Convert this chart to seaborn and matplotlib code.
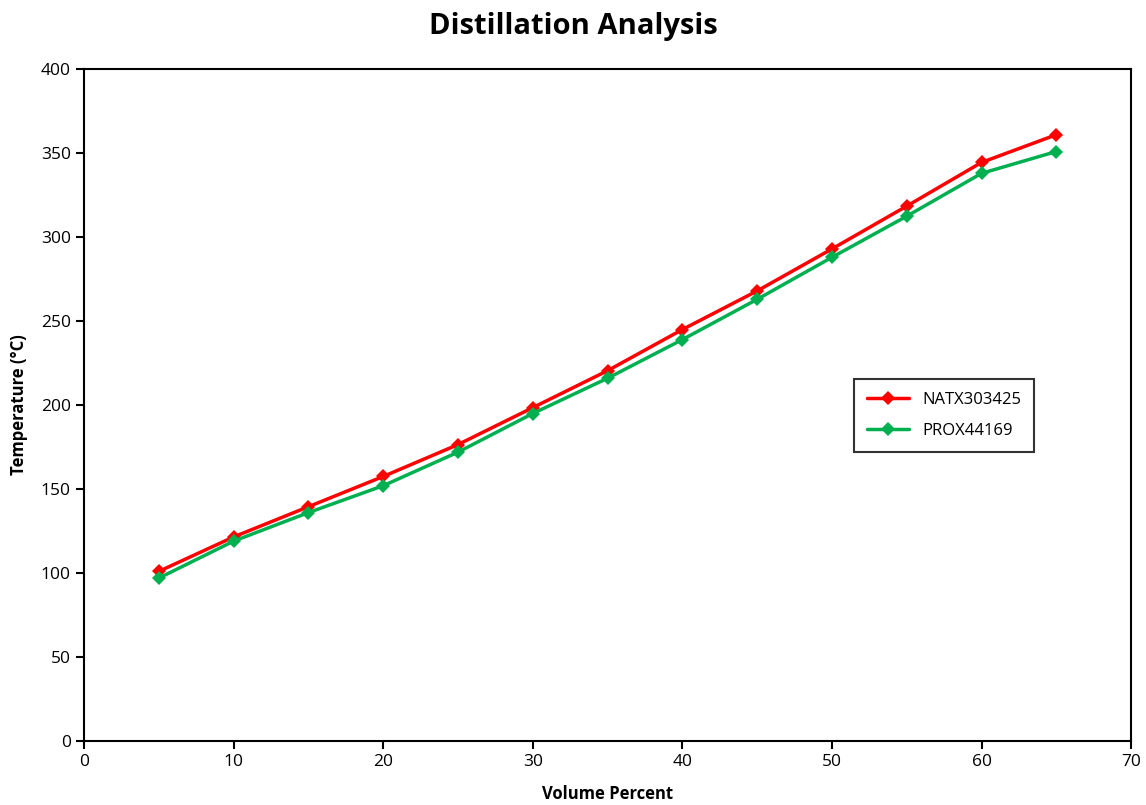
import pandas as pd
import seaborn as sns
import matplotlib

matplotlib.use("Agg")
import matplotlib.pyplot as plt

# values
volume_pct = [5, 10, 15, 20, 25, 30, 35, 40, 45, 50, 55, 60, 65]
natx_temp = [101, 121.5, 139.5, 157.5, 176.5, 198.5, 220.5, 245, 268, 293, 318.5, 344.5, 361]
prox_temp = [97, 119, 136, 152, 172, 195, 216, 239, 263, 288, 312.5, 338, 351]
series_names = ["NATX303425", "PROX44169"]

df = pd.concat(
    [
        pd.DataFrame({"volume": volume_pct, "temp": natx_temp, "sample": series_names[0]}),
        pd.DataFrame({"volume": volume_pct, "temp": prox_temp, "sample": series_names[1]}),
    ],
    ignore_index=True,
)

sns.set_theme(style="ticks")
plt.rcParams["font.family"] = ["Open Sans", "DejaVu Sans"]
plt.rcParams["text.color"] = "black"
plt.rcParams["axes.labelcolor"] = "black"
plt.rcParams["xtick.color"] = "black"
plt.rcParams["ytick.color"] = "black"

fig = plt.figure(figsize=(11.46, 8.05), dpi=100)
ax = fig.add_axes([0.0733, 0.0795, 0.9137, 0.8345])

sns.lineplot(
    data=df,
    x="volume",
    y="temp",
    hue="sample",
    palette=["#ff0000", "#00b050"],
    marker="D",
    markersize=7,
    markeredgewidth=0,
    linewidth=2.5,
    ax=ax,
)

ax.set_xlim(0, 70)
ax.set_ylim(0, 400)
ax.set_xticks(range(0, 71, 10))
ax.set_yticks(range(0, 401, 50))
ax.tick_params(labelsize=12.5, length=6, width=1.5, direction="out")
for side in ax.spines.values():
    side.set_visible(True)
    side.set_color("black")
    side.set_linewidth(1.5)

ax.set_xlabel("Volume Percent", fontsize=12, fontweight="bold", labelpad=11)
ax.set_ylabel("Temperature (°C)", fontsize=12, fontweight="bold", labelpad=9)
fig.suptitle("Distillation Analysis", fontsize=21, fontweight="bold", y=0.985)

leg = ax.legend(
    loc="upper left",
    bbox_to_anchor=(0.727, 0.552),
    fontsize=12,
    frameon=True,
    fancybox=False,
    edgecolor="black",
    borderpad=0.8,
    labelspacing=0.9,
    handlelength=2.5,
)
leg.get_frame().set_linewidth(1.5)
leg.set_title(None)

fig.savefig("out.png", dpi=100)
